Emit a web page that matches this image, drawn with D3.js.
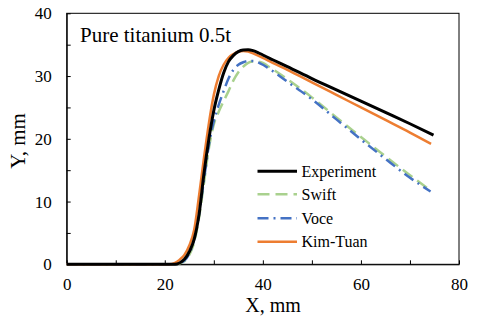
<!DOCTYPE html>
<html><head><meta charset="utf-8">
<script src="https://cdn.jsdelivr.net/npm/d3@7"></script>
<style>body{margin:0;background:#fff}svg{display:block}</style>
</head><body>
<svg id="c" width="480" height="325"></svg>
<script>
const seriesNames = ["Experiment", "Swift", "Voce", "Kim-Tuan"];
const experimentX = [0, 10, 20, 22, 24, 25, 26, 27, 28, 29, 30, 31, 32, 33, 34, 35, 36, 37, 38, 39, 40, 42, 45, 50, 55, 60, 65, 70, 74.8];
const experimentY = [0, 0, 0, 0, 0.8, 2, 4, 8, 14.5, 20, 24.5, 27.8, 30.5, 32.3, 33.3, 33.9, 34.15, 34.2, 34.05, 33.75, 33.35, 32.6, 31.5, 29.6, 27.8, 26, 24.2, 22.4, 20.6];
const swiftX = [0, 10, 20, 22, 24, 25, 26, 27, 28, 29, 30, 31, 32, 33, 34, 35, 36, 37, 38, 39, 40, 41, 42, 45, 50, 55, 60, 65, 70, 74.3];
const swiftY = [0, 0, 0, 0, 0.5, 1.5, 3.5, 7.5, 13, 18.5, 22.3, 24.3, 26, 27.6, 29.3, 30.6, 31.5, 32.1, 32.3, 32.3, 32.1, 31.6, 31.1, 29.5, 26.6, 23.4, 20.3, 17.2, 14.2, 11.7];
const voceX = [0, 10, 20, 22, 24, 25, 26, 27, 28, 29, 30, 31, 32, 33, 34, 35, 36, 37, 38, 39, 40, 41, 42, 45, 50, 55, 60, 65, 70, 74.2];
const voceY = [0, 0, 0, 0, 0.6, 1.7, 4, 8, 13.5, 19, 22.8, 25.4, 27.6, 29.6, 31, 31.8, 32.2, 32.4, 32.4, 32.2, 31.8, 31.3, 30.8, 29.1, 26.3, 23.1, 19.9, 16.8, 13.8, 11.6];
const kimTuanX = [0, 10, 20, 21, 23, 24, 25, 26, 27, 28, 29, 30, 31, 32, 33, 34, 35, 36, 37, 38, 40, 42, 45, 50, 55, 60, 65, 70, 74.3];
const kimTuanY = [0, 0, 0, 0, 0.7, 1.5, 3, 5.5, 11, 17, 22.5, 27, 30, 31.8, 32.9, 33.5, 33.9, 34.0, 33.9, 33.6, 32.9, 32.1, 31, 29, 27, 25, 23, 21, 19.2];
const xTicks = [0, 10, 20, 30, 40, 50, 60, 70, 80];
const yTicks = [0, 5, 10, 15, 20, 25, 30, 35, 40];
const titleText = "Pure titanium 0.5t";
const xTitle = "X, mm";
const yTitle = "Y, mm";

const FONT = '"Liberation Serif", "Times New Roman", "DejaVu Serif", serif';
const svg = d3.select("#c");
const L = 66.7, R = 459, T = 13.3, B = 264.3;
const x = d3.scaleLinear().domain([0, 80]).range([L, R]);
const y = d3.scaleLinear().domain([0, 40]).range([B, T]);

const xa = svg.append("g").attr("transform", `translate(0,${B})`)
  .call(d3.axisBottom(x).tickValues(xTicks).tickFormat(d => d % 20 === 0 ? d : "").tickSizeInner(-4).tickSizeOuter(0).tickPadding(14));
const ya = svg.append("g").attr("transform", `translate(${L},0)`)
  .call(d3.axisLeft(y).tickValues(yTicks).tickFormat(d => d % 10 === 0 ? d : "").tickSizeInner(-4).tickSizeOuter(0).tickPadding(15));
[xa, ya].forEach(a => {
  a.attr("font-family", FONT).attr("font-size", 17);
  a.selectAll("text").attr("fill", "#000").style("font-family", FONT).style("font-size", "17px");
  a.selectAll("line").attr("stroke", "#000");
  a.select(".domain").attr("stroke", "#000");
});
svg.append("rect").attr("x", L).attr("y", T).attr("width", R - L).attr("height", B - T)
  .attr("fill", "none").attr("stroke", "#000").attr("stroke-width", 1);

const series = [
  {name: seriesNames[1], xs: swiftX, ys: swiftY, color: "#A9D18E", w: 2.5, dash: "12,6"},
  {name: seriesNames[2], xs: voceX, ys: voceY, color: "#4472C4", w: 2.5, dash: "11,5,2,5"},
  {name: seriesNames[3], xs: kimTuanX, ys: kimTuanY, color: "#ED7D31", w: 2.5, dash: null},
  {name: seriesNames[0], xs: experimentX, ys: experimentY, color: "#000000", w: 3, dash: null}
];
const line = d3.line().x(d => x(d[0])).y(d => y(d[1])).curve(d3.curveMonotoneX);
series.forEach(s => {
  svg.append("path").datum(s.xs.map((v, i) => [v, s.ys[i]]))
    .attr("d", line).attr("fill", "none").attr("stroke", s.color)
    .attr("stroke-width", s.w).attr("stroke-dasharray", s.dash)
    .attr("stroke-linejoin", "round");
});

function txt(sel, size) { return sel.style("font-family", FONT).style("font-size", size + "px").attr("fill", "#000"); }

const legendOrder = [3, 0, 1, 2];
const ly = [171.3, 194.3, 218.3, 241.7];
legendOrder.forEach((si, i) => {
  const s = series[si];
  svg.append("line").attr("x1", 257.5).attr("x2", 297).attr("y1", ly[i]).attr("y2", ly[i])
    .attr("stroke", s.color).attr("stroke-width", s.w).attr("stroke-dasharray", s.dash);
  txt(svg.append("text").attr("x", 301.5).attr("y", ly[i] + 5.5), 16).text(s.name);
});

txt(svg.append("text").attr("x", 80).attr("y", 41.7), 21).text(titleText);
txt(svg.append("text").attr("x", 273).attr("y", 312).attr("text-anchor", "middle"), 20).text(xTitle);
txt(svg.append("text").attr("transform", "translate(25,141) rotate(-90)").attr("text-anchor", "middle"), 21).text(yTitle);
</script>
</body></html>
